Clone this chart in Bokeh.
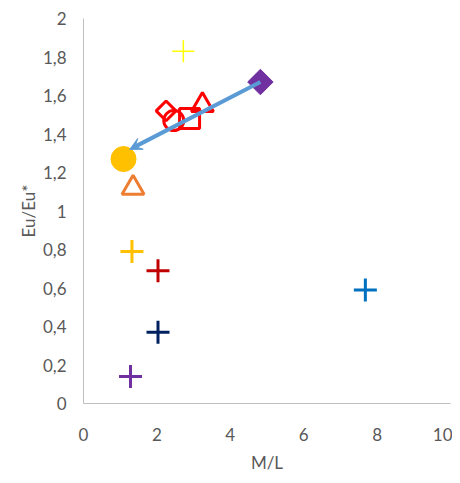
import math
from bokeh.plotting import figure
from bokeh.models import Range1d, FixedTicker, CustomJSTickFormatter, Arrow, VeeHead
from bokeh.embed import file_html
from bokeh.resources import INLINE

# ---- data ----
x_ticks = [0, 2, 4, 6, 8, 10]
y_ticks = [0, 0.2, 0.4, 0.6, 0.8, 1.0, 1.2, 1.4, 1.6, 1.8, 2.0]

# thick "+" series
cross_x = [1.32, 2.03, 2.03, 1.28, 7.68]
cross_y = [0.79, 0.69, 0.37, 0.14, 0.59]
cross_colors = ["#FFC000", "#C00000", "#002060", "#7030A0", "#0070C0"]

# thin yellow "+"
thin_x = [2.72]
thin_y = [1.83]

# red outline markers
red_diamond = (2.25, 1.52)
red_circle = (2.46, 1.47)
red_square = (2.89, 1.48)
red_triangle = (3.24, 1.55)

# filled markers
purple_diamond = (4.82, 1.67)
gold_circle = (1.09, 1.27)
orange_triangle = (1.35, 1.12)

# arrow (start -> end)
arrow_start = (4.82, 1.67)
arrow_end = (1.26, 1.32)

FONT = "Lato"
GRAY = "#595959"

p = figure(width=452, height=475, output_backend="svg", toolbar_location=None,
           x_range=Range1d(0, 10), y_range=Range1d(0, 2),
           min_border_left=83, min_border_right=2, min_border_top=18, min_border_bottom=66)
p.outline_line_color = None
p.xgrid.visible = False
p.ygrid.visible = False
p.background_fill_color = "white"
p.border_fill_color = "white"

for ax in (p.xaxis[0], p.yaxis[0]):
    ax.axis_line_color = "#BFBFBF"
    ax.axis_line_width = 1
    ax.major_tick_line_color = None
    ax.minor_tick_line_color = None
    ax.major_label_text_font = FONT
    ax.major_label_text_font_size = "17px"
    ax.major_label_text_color = GRAY
    ax.axis_label_text_font = FONT
    ax.axis_label_text_font_size = "17px"
    ax.axis_label_text_color = GRAY
    ax.axis_label_text_font_style = "normal"

p.xaxis.ticker = FixedTicker(ticks=x_ticks)
p.yaxis.ticker = FixedTicker(ticks=y_ticks)
fmt = CustomJSTickFormatter(code="""
var s = (Math.round(tick*10)/10).toString();
return s.replace('.', ',');
""")
p.xaxis.formatter = fmt
p.yaxis.formatter = fmt
p.xaxis.axis_label = "M/L"
p.yaxis.axis_label = "Eu/Eu*"
p.xaxis.major_label_standoff = 18
p.yaxis.major_label_standoff = 11
p.xaxis.axis_label_standoff = 8
p.yaxis.axis_label_standoff = 1

# arrow
p.add_layout(Arrow(x_start=arrow_start[0], y_start=arrow_start[1],
                   x_end=arrow_end[0], y_end=arrow_end[1],
                   line_color="#5B9BD5", line_width=4,
                   end=VeeHead(size=12, fill_color="#5B9BD5", line_color="#5B9BD5", line_width=1)))

# thick crosses
p.scatter(cross_x, cross_y, marker="cross", size=23, line_color=cross_colors, line_width=3)
# thin yellow cross
p.scatter(thin_x, thin_y, marker="cross", size=22, line_color="#FFFF00", line_width=1.5)

# red outline markers
p.scatter([red_diamond[0]], [red_diamond[1]], marker="square", angle=math.pi / 4, size=14,
          line_color="#FF0000", line_width=3, fill_color=None)
p.scatter([red_circle[0]], [red_circle[1]], marker="circle", size=20,
          line_color="#FF0000", line_width=3, fill_color=None)
p.scatter([red_square[0]], [red_square[1]], marker="square", size=20,
          line_color="#FF0000", line_width=3, fill_color=None)
p.scatter([red_triangle[0]], [red_triangle[1]], marker="triangle", size=22,
          line_color="#FF0000", line_width=3, fill_color=None)

# filled markers
p.scatter([purple_diamond[0]], [purple_diamond[1]], marker="square", angle=math.pi / 4, size=18,
          line_color="#7030A0", fill_color="#7030A0")
p.scatter([gold_circle[0]], [gold_circle[1]], marker="circle", size=25,
          line_color="#FFC000", fill_color="#FFC000")
p.scatter([orange_triangle[0]], [orange_triangle[1]], marker="triangle", size=22,
          line_color="#ED7D31", line_width=3, fill_color=None)

open("out.html", "w").write(file_html(p, INLINE))
